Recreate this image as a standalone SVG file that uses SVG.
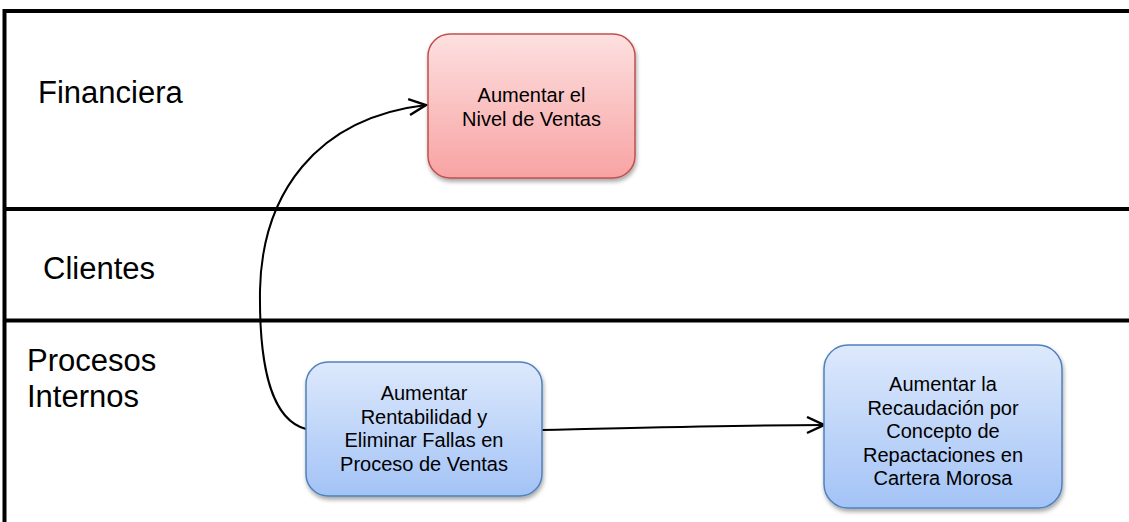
<svg xmlns="http://www.w3.org/2000/svg" width="1129" height="522" viewBox="0 0 1129 522">
  <style>
    .lane { stroke: #000; stroke-width: 4; fill: none; }
    .lbl { font-family: "Liberation Sans", Arial, sans-serif; font-size: 31px; fill: #000; }
    .txt { font-family: "Liberation Sans", Arial, sans-serif; font-size: 20px; fill: #000; text-anchor: middle; }
    .conn { stroke: #000; stroke-width: 2; fill: none; marker-end: url(#chev); }
  </style>
  <defs>
    <linearGradient id="gRed" x1="0" y1="0" x2="0" y2="1">
      <stop offset="0" stop-color="#fde0e0"/>
      <stop offset="1" stop-color="#f8a3a3"/>
    </linearGradient>
    <linearGradient id="gBlue" x1="0" y1="0" x2="0" y2="1">
      <stop offset="0" stop-color="#dde9fc"/>
      <stop offset="1" stop-color="#a3c3f6"/>
    </linearGradient>
    <filter id="shadow" x="-10%" y="-10%" width="125%" height="130%">
      <feDropShadow dx="1" dy="3" stdDeviation="2" flood-color="#000" flood-opacity="0.35"/>
    </filter>
    <marker id="chev" markerWidth="20" markerHeight="20" refX="18" refY="9" orient="auto" markerUnits="userSpaceOnUse">
      <path d="M1,1 L18,9 L1,17" fill="none" stroke="#000" stroke-width="2.4"/>
    </marker>
  </defs>

  <!-- swimlane frame -->
  <g id="lanes">
    <path class="lane" d="M4.5,522 V11 H1129" stroke-width="3"/>
    <line class="lane" x1="4" y1="11" x2="1129" y2="11"/>
    <line class="lane" x1="4" y1="209" x2="1129" y2="209"/>
    <line class="lane" x1="4" y1="320.5" x2="1129" y2="320.5"/>
    <text class="lbl" x="38" y="103">Financiera</text>
    <text class="lbl" x="43" y="279">Clientes</text>
    <text class="lbl" x="27" y="371">Procesos</text>
    <text class="lbl" x="27" y="407">Internos</text>
  </g>

  <!-- connectors -->
  <g id="connectors">
    <path class="conn" d="M306,429 C 272,420 259,370 260,290 C 262,195 315,118 426,105"/>
    <path class="conn" d="M542,430 C 640,428 740,425 824,425"/>
  </g>

  <g id="node-ventas">
    <rect x="428" y="34" width="207" height="144" rx="22" fill="url(#gRed)" stroke="#c0504d" stroke-width="1.5" filter="url(#shadow)"/>
    <text class="txt" x="531.5" y="102">Aumentar el</text>
    <text class="txt" x="531.5" y="125.5">Nivel de Ventas</text>
  </g>

  <g id="node-rentabilidad">
    <rect x="306" y="362" width="236" height="134" rx="22" fill="url(#gBlue)" stroke="#4f81bd" stroke-width="1.5" filter="url(#shadow)"/>
    <text class="txt" x="424" y="400">Aumentar</text>
    <text class="txt" x="424" y="423.5">Rentabilidad y</text>
    <text class="txt" x="424" y="447">Eliminar Fallas en</text>
    <text class="txt" x="424" y="470.5">Proceso de Ventas</text>
  </g>

  <g id="node-recaudacion">
    <rect x="824" y="345" width="238" height="163" rx="24" fill="url(#gBlue)" stroke="#4f81bd" stroke-width="1.5" filter="url(#shadow)"/>
    <text class="txt" x="943" y="391">Aumentar la</text>
    <text class="txt" x="943" y="414.5">Recaudación por</text>
    <text class="txt" x="943" y="438">Concepto de</text>
    <text class="txt" x="943" y="461.5">Repactaciones en</text>
    <text class="txt" x="943" y="485">Cartera Morosa</text>
  </g>
</svg>
